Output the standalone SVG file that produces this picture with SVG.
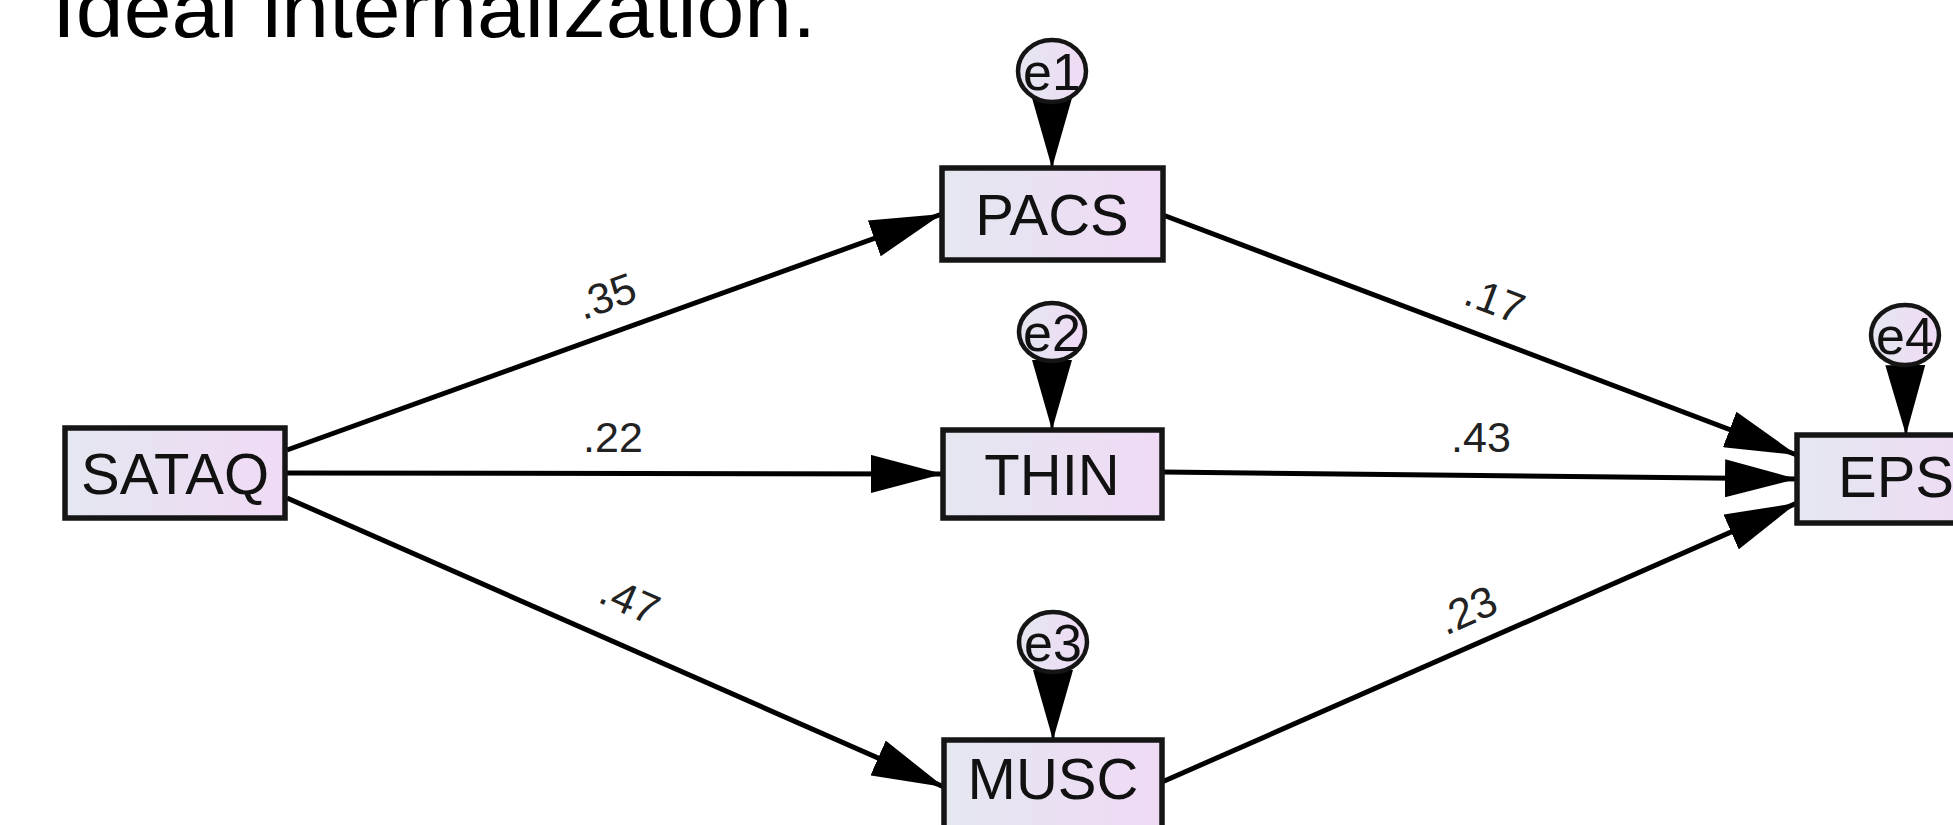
<svg xmlns="http://www.w3.org/2000/svg" width="1953" height="825" viewBox="0 0 1953 825">
  <defs>
    <linearGradient id="fillGrad" x1="0" y1="0" x2="1" y2="0">
      <stop offset="0" stop-color="#e4e7f0"/>
      <stop offset="1" stop-color="#f0daf5"/>
    </linearGradient>
    <marker id="arrow" viewBox="0 0 72 38" refX="72" refY="19" markerWidth="72" markerHeight="38" markerUnits="userSpaceOnUse" orient="auto">
      <path d="M0,0 L72,19 L0,38 Z" fill="#000"/>
    </marker>
    <marker id="errArrow" viewBox="0 0 70 40" refX="70" refY="20" markerWidth="70" markerHeight="40" markerUnits="userSpaceOnUse" orient="auto">
      <path d="M0,0 L70,20 L0,40 Z" fill="#000"/>
    </marker>
  </defs>
  <style>
    .box { fill: url(#fillGrad); stroke: #151515; stroke-width: 5.5; }
    .err { fill: url(#fillGrad); stroke: #151515; stroke-width: 4.5; }
    .lbl { font-family: "Liberation Sans", Arial, sans-serif; font-size: 58px; fill: #111; text-anchor: middle; }
    .elbl { font-family: "Liberation Sans", Arial, sans-serif; font-size: 52px; fill: #111; text-anchor: middle; }
    .coef { font-family: "Liberation Sans", Arial, sans-serif; font-size: 43px; fill: #222; text-anchor: middle; }
    .conn { stroke: #000; stroke-width: 5; fill: none; marker-end: url(#arrow); }
    .econn { stroke: #000; stroke-width: 3; fill: none; marker-end: url(#errArrow); }
    .title { font-family: "Liberation Sans", Arial, sans-serif; font-size: 80px; fill: #000; }
  </style>
  <rect x="0" y="0" width="1953" height="825" fill="#fff"/>

  <text class="title" x="52" y="37" textLength="764" lengthAdjust="spacingAndGlyphs">Ideal internalization.</text>

  <g id="connectors">
    <line class="conn" x1="287" y1="450" x2="942" y2="214"/>
    <line class="conn" x1="287" y1="473" x2="943" y2="474"/>
    <line class="conn" x1="287" y1="498" x2="944" y2="787"/>
    <line class="conn" x1="1163" y1="215" x2="1797" y2="455"/>
    <line class="conn" x1="1162" y1="472" x2="1797" y2="479"/>
    <line class="conn" x1="1162" y1="782" x2="1797" y2="503"/>
    <line class="econn" x1="1052" y1="71" x2="1052" y2="168"/>
    <line class="econn" x1="1052" y1="332" x2="1052" y2="430"/>
    <line class="econn" x1="1053" y1="642" x2="1053" y2="740"/>
    <line class="econn" x1="1905" y1="335" x2="1906" y2="435"/>
    <text class="coef" transform="translate(606,296) rotate(-19.7)" x="0" y="15">.35</text>
    <text class="coef" x="613" y="452">.22</text>
    <text class="coef" transform="translate(630,600) rotate(24)" x="0" y="15">.47</text>
    <text class="coef" transform="translate(1495,300) rotate(20.6)" x="0" y="15">.17</text>
    <text class="coef" x="1481" y="452">.43</text>
    <text class="coef" transform="translate(1467,610) rotate(-23.7)" x="0" y="15">.23</text>
  </g>

  <g id="SATAQ">
    <rect class="box" x="65" y="428" width="220" height="90"/>
    <text class="lbl" x="175" y="494">SATAQ</text>
  </g>
  <g id="PACS">
    <rect class="box" x="942" y="168" width="221" height="92"/>
    <text class="lbl" x="1052" y="235">PACS</text>
  </g>
  <g id="THIN">
    <rect class="box" x="943" y="430" width="219" height="88"/>
    <text class="lbl" x="1052" y="495">THIN</text>
  </g>
  <g id="MUSC">
    <rect class="box" x="944" y="740" width="218" height="92"/>
    <text class="lbl" x="1053" y="799">MUSC</text>
  </g>
  <g id="EPS">
    <rect class="box" x="1797" y="435" width="200" height="88"/>
    <text class="lbl" x="1838" y="497" style="text-anchor:start">EPS</text>
  </g>
  <g id="e1">
    <ellipse class="err" cx="1052" cy="71" rx="34" ry="31"/>
    <text class="elbl" x="1052" y="90">e1</text>
  </g>
  <g id="e2">
    <ellipse class="err" cx="1052" cy="332" rx="33" ry="29"/>
    <text class="elbl" x="1052" y="351">e2</text>
  </g>
  <g id="e3">
    <ellipse class="err" cx="1053" cy="642" rx="34" ry="30"/>
    <text class="elbl" x="1053" y="661">e3</text>
  </g>
  <g id="e4">
    <ellipse class="err" cx="1905" cy="335" rx="34" ry="30"/>
    <text class="elbl" x="1905" y="354">e4</text>
  </g>
</svg>
